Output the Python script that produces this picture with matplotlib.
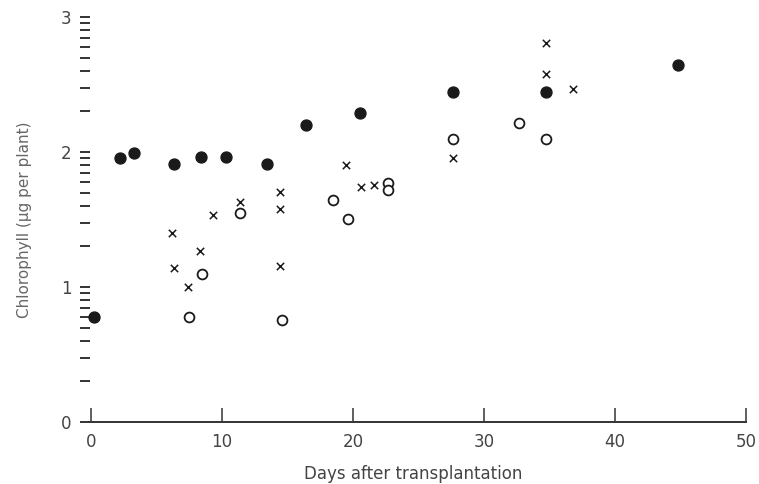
import matplotlib
matplotlib.use("Agg")
import matplotlib.pyplot as plt
from matplotlib.ticker import FixedLocator, FixedFormatter, LogLocator, NullFormatter

# --- Data (days after transplantation, chlorophyll on a log scale) ---
filled_days = [0.25, 2.2, 3.3, 6.3, 8.4, 10.3, 13.4, 16.4, 20.5, 27.6, 34.7, 44.8]
filled_vals = [6.0, 91, 98, 81, 92, 92, 81, 158, 195, 278, 278, 441]

open_days = [7.5, 8.5, 11.4, 14.6, 18.5, 19.6, 22.7, 22.7, 27.6, 32.7, 34.7]
open_vals = [6.0, 12.4, 35.2, 5.7, 44, 31.9, 59.3, 52.3, 125, 165, 125]

cross_days = [6.2, 6.3, 7.4, 8.3, 9.3, 11.4, 14.4, 14.4, 14.4, 19.5, 20.6, 21.6,
              27.6, 34.7, 34.7, 36.8]
cross_vals = [25, 13.9, 10.0, 18.5, 34, 42.4, 50.8, 37.6, 14.4, 80, 55.3, 57,
              90.7, 378, 638, 293]

x_ticks = [0, 10, 20, 30, 40, 50]
y_ticks = [1, 10, 100, 1000]
y_tick_labels = ["0", "1", "2", "3"]

INK = "#1a1a1a"


def main():
    fig = plt.figure(figsize=(7.59, 4.84), dpi=100)
    ax = fig.add_axes([80 / 759, 62 / 484, 666 / 759, 405 / 484])

    ax.scatter(filled_days, filled_vals, s=62, color=INK, zorder=3)
    ax.scatter(open_days, open_vals, s=50, facecolors="white",
               edgecolors=INK, linewidths=1.3, zorder=3)
    ax.scatter(cross_days, cross_vals, s=28, marker="x", color=INK,
               linewidths=1.1, zorder=3)

    ax.set_yscale("log")
    ax.set_xlim(-0.84, 50)
    ax.set_ylim(1, 1000)

    # log axis: decades labelled by exponent
    ax.yaxis.set_major_locator(FixedLocator(y_ticks))
    ax.yaxis.set_major_formatter(FixedFormatter(y_tick_labels))
    ax.yaxis.set_minor_locator(LogLocator(base=10, subs=range(2, 10)))
    ax.yaxis.set_minor_formatter(NullFormatter())
    ax.tick_params(axis="y", which="both", direction="in", length=7,
                   width=1.4, color="#333333", pad=6, labelsize=12,
                   labelcolor="#444444")

    ax.set_xticks(x_ticks)
    ax.tick_params(axis="x", direction="in", length=10, width=1.2,
                   color="#444444", pad=8, labelsize=12, labelcolor="#444444")

    for side in ["top", "right", "left"]:
        ax.spines[side].set_visible(False)
    ax.spines["bottom"].set_bounds(-0.2, 50)
    ax.spines["bottom"].set_color("#333333")
    ax.spines["bottom"].set_linewidth(1.4)

    ax.set_xlabel("Days after transplantation", fontsize=12, color="#444444",
                  labelpad=10)
    ax.set_ylabel("Chlorophyll (µg per plant)", fontsize=11, color="#666666")
    ax.yaxis.set_label_coords(-0.072, 0.5)

    fig.savefig("out.png", dpi=100)


if __name__ == "__main__":
    main()
